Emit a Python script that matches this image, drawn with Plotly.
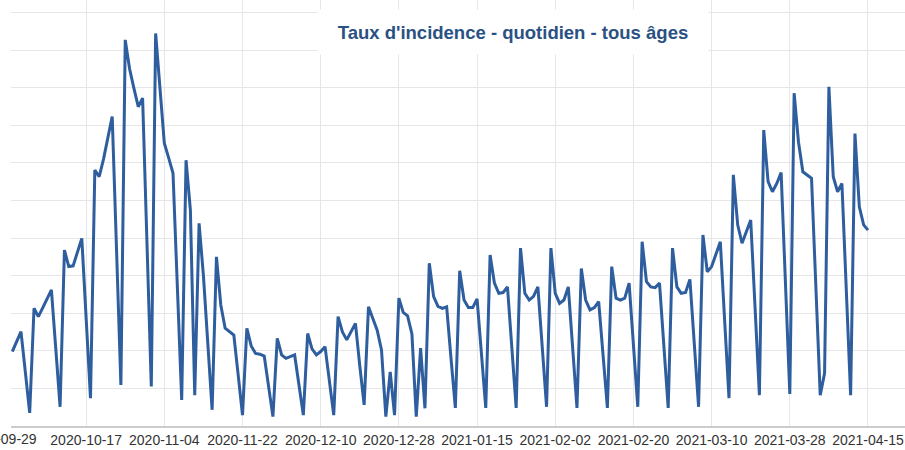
import pandas as pd
import plotly.graph_objects as go

# Daily incidence values (Sep 30, 2020 -> Apr 15, 2021)
start_date = "2020-09-30"
first_days = [19.8, 22.3, 25.1, 14.4, 3.5]  # Wed Sep 30 .. Sun Oct 4
weeks = [  # Monday .. Sunday
    [31.3, 29.1, 31.4, 33.8, 36.2, 20.7, 5.1],
    [46.8, 42.4, 42.6, 46.2, 49.9, 28.7, 7.4],
    [68.1, 66.3, 71.0, 76.5, 82.3, 46.8, 10.9],
    [102.7, 95.0, 89.8, 84.9, 87.2, 48.9, 10.5],
    [104.4, 89.0, 75.2, 71.3, 67.2, 37.0, 6.9],
    [70.7, 57.4, 8.2, 53.9, 40.0, 22.0, 4.3],
    [45.0, 32.2, 26.0, 25.0, 24.2, 13.6, 2.9],
    [26.0, 21.3, 19.3, 19.1, 18.6, 10.6, 2.5],
    [23.3, 18.9, 18.0, 18.4, 18.9, 10.9, 2.9],
    [24.6, 20.5, 18.9, 19.8, 21.1, 12.0, 2.9],
    [29.1, 25.0, 22.9, 25.0, 27.3, 16.0, 5.6],
    [31.7, 28.7, 25.5, 20.2, 2.5, 14.4, 2.9],
    [34.0, 30.2, 29.3, 24.5, 2.5, 20.7, 4.7],
    [43.3, 34.4, 31.8, 31.3, 31.7, 18.0, 4.8],
    [41.3, 33.5, 31.5, 31.5, 33.8, 19.0, 4.8],
    [45.5, 38.0, 35.3, 35.5, 37.0, 21.0, 4.8],
    [47.3, 35.3, 33.5, 34.5, 37.0, 21.0, 5.1],
    [47.3, 35.3, 32.6, 33.5, 37.0, 21.0, 4.8],
    [41.9, 33.5, 30.9, 31.5, 33.1, 19.0, 4.8],
    [42.4, 34.0, 33.5, 34.0, 38.0, 21.5, 5.1],
    [49.0, 38.4, 37.0, 36.8, 38.0, 21.5, 4.8],
    [47.3, 37.0, 35.3, 35.5, 39.0, 22.0, 5.1],
    [50.8, 41.0, 42.4, 45.5, 49.0, 28.0, 7.4],
    [66.8, 53.5, 48.6, 51.5, 54.8, 31.5, 8.2],
    [78.7, 65.0, 62.3, 64.5, 67.4, 38.0, 8.5],
    [88.5, 75.5, 67.6, 66.8, 65.9, 37.0, 8.2],
    [14.0, 90.2, 66.3, 62.3, 64.5, 36.0, 8.2],
]
last_days = [77.8, 58.3, 53.5, 52.1]  # Mon Apr 12 .. Thu Apr 15

tick_labels = ["2020-09-29", "2020-10-17", "2020-11-04", "2020-11-22", "2020-12-10",
               "2020-12-28", "2021-01-15", "2021-02-02", "2021-02-20", "2021-03-10",
               "2021-03-28", "2021-04-15"]

values = list(first_days)
for w in weeks:
    values.extend(w)
values.extend(last_days)
dates = pd.date_range(start_date, periods=len(values), freq="D")

LINE = "#2f5e9e"
TITLE_COLOR = "#2a5183"
GRID = "#e6e6e6"
FONT = "Arial, Liberation Sans, sans-serif"

fig = go.Figure()
fig.add_trace(go.Scatter(x=dates, y=values, mode="lines",
                         line=dict(color=LINE, width=3), hoverinfo="x+y"))

# ticks inside the visible range
vis_ticks = [t for t in tick_labels if t != "2020-09-29"]

W, H = 905, 450
ml, mr, mt, mb = 11, 0, 0, 24
pw, ph = W - ml - mr, H - mt - mb

fig.update_layout(
    width=W, height=H,
    margin=dict(l=ml, r=mr, t=mt, b=mb, autoexpand=False),
    paper_bgcolor="white", plot_bgcolor="white",
    showlegend=False,
    font=dict(family=FONT),
    xaxis=dict(
        type="date",
        range=["2020-09-29 16:48", "2021-04-23 12:28"],
        tickmode="array", tickvals=vis_ticks, ticktext=vis_ticks,
        showgrid=True, gridcolor=GRID, gridwidth=1,
        showline=True, linecolor="#cccccc", linewidth=2,
        ticks="", tickfont=dict(size=14, color="#333333", family=FONT),
        zeroline=False, automargin=False,
    ),
    yaxis=dict(
        range=[0, 113.3], dtick=10, tick0=0,
        showgrid=True, gridcolor=GRID, gridwidth=1,
        showticklabels=False, zeroline=False, showline=False, ticks="",
    ),
)

# first, partially cut tick label on the left
fig.add_annotation(
    xref="paper", yref="paper",
    x=(1 - ml) / pw, y=0, xanchor="center", yanchor="top", yshift=-3,
    text="2020-09-29", showarrow=False,
    font=dict(size=14, color="#333333", family=FONT),
)

# title with white box
fig.add_annotation(
    xref="paper", yref="paper",
    x=(513 - ml) / pw, y=(426 - 32) / ph, xanchor="center", yanchor="middle",
    width=390, height=44, bgcolor="white", borderpad=0,
    text="<b>Taux d'incidence - quotidien - tous âges</b>", showarrow=False,
    font=dict(size=18.5, color=TITLE_COLOR, family=FONT),
)

fig.write_html("out.html", config={"displayModeBar": False},
               post_script="document.body.style.margin='0';")
